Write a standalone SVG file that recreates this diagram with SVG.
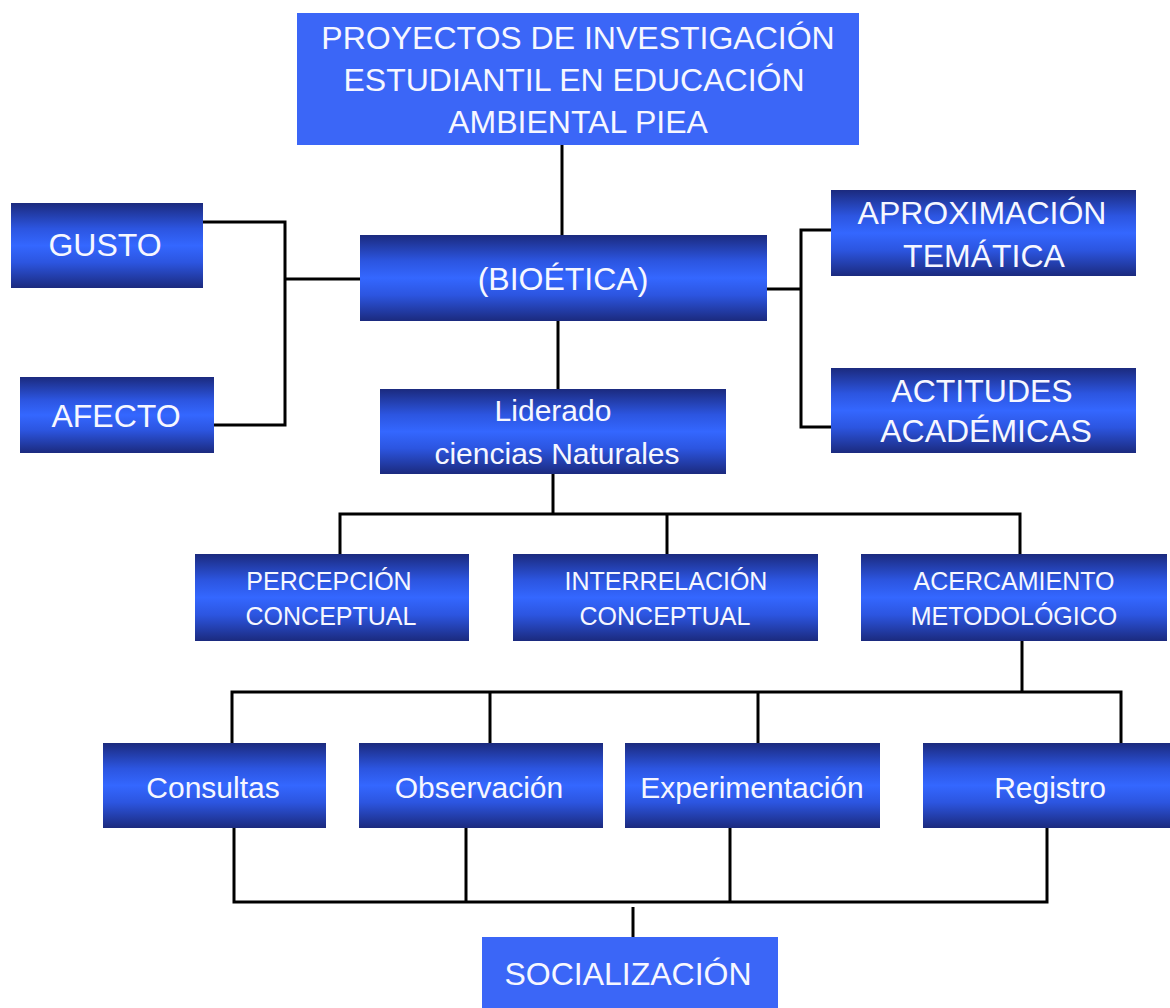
<svg xmlns="http://www.w3.org/2000/svg" width="1170" height="1008" viewBox="0 0 1170 1008">
<defs>
<linearGradient id="g" x1="0" y1="0" x2="0" y2="1">
<stop offset="0" stop-color="#1b2a7e"/>
<stop offset="0.3" stop-color="#2c55e0"/>
<stop offset="0.5" stop-color="#3467ff"/>
<stop offset="0.7" stop-color="#2c55e0"/>
<stop offset="1" stop-color="#1b2a7e"/>
</linearGradient>
<style>
.flat{fill:#3b66f7}
.grad{fill:url(#g)}
text{font-family:"Liberation Sans",Arial,sans-serif;fill:#f6f7ff;text-anchor:middle}
.t32{font-size:32px}
.t30{font-size:30px}
.t25{font-size:25px}
.c line,.c path{stroke:#000;stroke-width:3;fill:none}
</style>
</defs>
<rect width="1170" height="1008" fill="#fff"/>
<g class="c" id="connectors">
<line x1="562" y1="145" x2="562" y2="235"/>
<path d="M200 222 H285 V425 H212"/>
<line x1="285" y1="279" x2="360" y2="279"/>
<path d="M767 289 H801"/>
<path d="M831 230 H801 V427 H831"/>
<line x1="558" y1="321" x2="558" y2="389"/>
<line x1="553" y1="474" x2="553" y2="514"/>
<path d="M340 554 V514 H1020 V554"/>
<line x1="667" y1="514" x2="667" y2="554"/>
<line x1="1022" y1="641" x2="1022" y2="692"/>
<path d="M232 743 V692 H1121 V745"/>
<line x1="490" y1="692" x2="490" y2="743"/>
<line x1="758" y1="692" x2="758" y2="743"/>
<path d="M234 828 V902 H1047 V828"/>
<line x1="466" y1="828" x2="466" y2="902"/>
<line x1="730" y1="828" x2="730" y2="902"/>
<line x1="633" y1="907" x2="633" y2="937"/>
</g>
<g id="n-title"><rect class="flat" x="297" y="13" width="562" height="132"/>
<text class="t32" x="578" y="49">PROYECTOS DE INVESTIGACIÓN</text>
<text class="t32" x="574" y="91">ESTUDIANTIL EN EDUCACIÓN</text>
<text class="t32" x="578" y="133">AMBIENTAL PIEA</text></g>
<g id="n-gusto"><rect class="grad" x="11" y="203" width="192" height="85"/>
<text class="t32" x="105" y="256">GUSTO</text></g>
<g id="n-afecto"><rect class="grad" x="20" y="377" width="194" height="76"/>
<text class="t32" x="116" y="427">AFECTO</text></g>
<g id="n-bioetica"><rect class="grad" x="360" y="235" width="407" height="86"/>
<text class="t32" x="563" y="290">(BIOÉTICA)</text></g>
<g id="n-aprox"><rect class="grad" x="831" y="190" width="305" height="86"/>
<text class="t32" x="982" y="224">APROXIMACIÓN</text>
<text class="t32" x="984" y="267">TEMÁTICA</text></g>
<g id="n-actitudes"><rect class="grad" x="831" y="368" width="305" height="85"/>
<text class="t32" x="982" y="402">ACTITUDES</text>
<text class="t32" x="986" y="442">ACADÉMICAS</text></g>
<g id="n-liderado"><rect class="grad" x="380" y="389" width="346" height="85"/>
<text class="t30" x="553" y="421">Liderado</text>
<text class="t30" x="557" y="464">ciencias Naturales</text></g>
<g id="n-percepcion"><rect class="grad" x="195" y="554" width="274" height="87"/>
<text class="t25" x="329" y="590">PERCEPCIÓN</text>
<text class="t25" x="331" y="625">CONCEPTUAL</text></g>
<g id="n-interrelacion"><rect class="grad" x="513" y="554" width="305" height="87"/>
<text class="t25" x="666" y="590">INTERRELACIÓN</text>
<text class="t25" x="665" y="625">CONCEPTUAL</text></g>
<g id="n-acercamiento"><rect class="grad" x="861" y="554" width="306" height="87"/>
<text class="t25" x="1014" y="590">ACERCAMIENTO</text>
<text class="t25" x="1014" y="625">METODOLÓGICO</text></g>
<g id="n-consultas"><rect class="grad" x="103" y="743" width="223" height="85"/>
<text class="t30" x="213" y="798">Consultas</text></g>
<g id="n-observacion"><rect class="grad" x="359" y="743" width="244" height="85"/>
<text class="t30" x="479" y="798">Observación</text></g>
<g id="n-experimentacion"><rect class="grad" x="625" y="743" width="255" height="85"/>
<text class="t30" x="752" y="798">Experimentación</text></g>
<g id="n-registro"><rect class="grad" x="923" y="743" width="247" height="85"/>
<text class="t30" x="1050" y="798">Registro</text></g>
<g id="n-socializacion"><rect class="flat" x="482" y="937" width="296" height="71"/>
<text class="t32" x="628" y="985">SOCIALIZACIÓN</text></g>
</svg>
